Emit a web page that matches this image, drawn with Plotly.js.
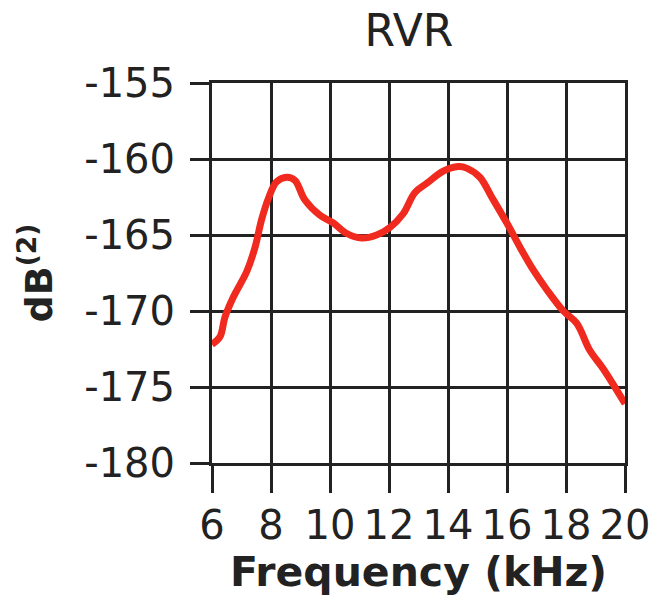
<!DOCTYPE html>
<html>
<head>
<meta charset="utf-8">
<script src="https://cdn.plot.ly/plotly-3.0.1.min.js"></script>
<style>html,body{margin:0;padding:0;background:#fff;}#chart{width:670px;height:604px;}</style>
</head>
<body>
<div id="chart"></div>
<script>
// Frequency (kHz)
var freq = [6.0, 6.27, 6.44, 6.72, 7.18, 7.46, 7.68, 7.91, 8.19, 8.53, 8.81, 9.15, 9.66, 10.11, 10.57, 11.07, 11.58, 12.03, 12.48, 12.88, 13.28, 13.84, 14.35, 14.63, 15.08, 15.48, 15.99, 16.44, 16.89, 17.35, 17.91, 18.36, 18.81, 19.26, 20.0];
// Level dB(2)
var level = [-172.2, -171.7, -170.4, -169.1, -167.4, -165.8, -164.0, -162.6, -161.5, -161.2, -161.4, -162.7, -163.7, -164.2, -164.9, -165.2, -165.0, -164.5, -163.6, -162.2, -161.6, -160.8, -160.5, -160.6, -161.2, -162.5, -164.2, -165.8, -167.3, -168.6, -170.0, -170.8, -172.6, -173.8, -176.1];
var xTicks = [6, 8, 10, 12, 14, 16, 18, 20];
var yTicks = [-155, -160, -165, -170, -175, -180];

var ink = '#222222';
var trace = {
  x: freq, y: level, type: 'scatter', mode: 'lines',
  line: {color: '#f02a1e', width: 7, shape: 'spline', smoothing: 1.0},
  hoverinfo: 'skip'
};
var layout = {
  width: 670, height: 604,
  margin: {l: 212, r: 45, t: 83, b: 141},
  paper_bgcolor: '#ffffff', plot_bgcolor: '#ffffff',
  showlegend: false,
  font: {family: 'DejaVu Sans, sans-serif', color: ink},
  title: {text: 'RVR', font: {size: 44, color: ink}, x: 409/670, xanchor: 'center', xref: 'container', y: 1 - 31/604, yanchor: 'middle', yref: 'container'},
  xaxis: {
    range: [6, 20], tickvals: xTicks, ticktext: xTicks.map(String),
    showgrid: true, gridcolor: ink, gridwidth: 3,
    showline: true, linecolor: ink, linewidth: 3, mirror: true,
    ticks: 'outside', ticklen: 27, tickwidth: 3, tickcolor: ink,
    tickfont: {size: 40, color: ink}, ticklabelstandoff: -2,
    zeroline: false, fixedrange: true,
    title: {text: 'Frequency (kHz)', font: {size: 41, color: ink, weight: 'bold'}, standoff: 0}
  },
  yaxis: {
    range: [-180, -155], tickvals: yTicks, ticktext: yTicks.map(String),
    showgrid: true, gridcolor: ink, gridwidth: 3,
    showline: true, linecolor: ink, linewidth: 3, mirror: true,
    ticks: 'outside', ticklen: 19, tickwidth: 3, tickcolor: ink,
    tickfont: {size: 40, color: ink}, ticklabelstandoff: 7,
    zeroline: false, fixedrange: true,
    title: {text: 'dB<sup>(2)</sup>', font: {size: 38, color: ink, weight: 'bold'}, standoff: 20}
  }
};
Plotly.newPlot('chart', [trace], layout, {displayModeBar: false, staticPlot: true});
</script>
</body>
</html>
